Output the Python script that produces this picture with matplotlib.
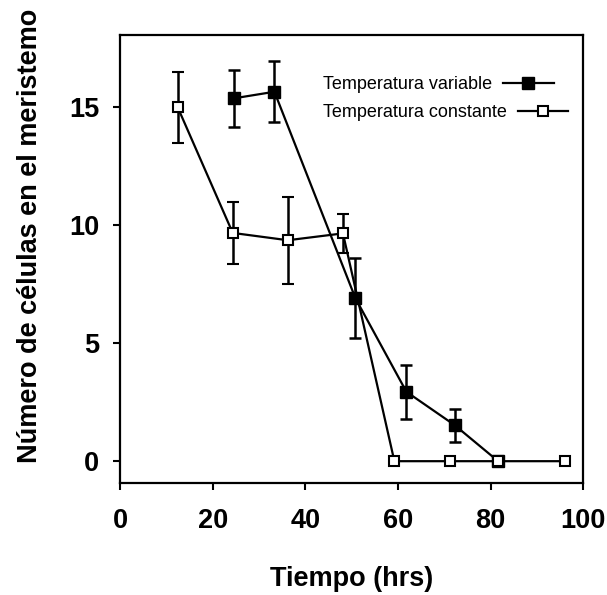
import matplotlib
matplotlib.use("Agg")
import matplotlib.pyplot as plt

plt.rcParams['font.family'] = ['Liberation Sans', 'DejaVu Sans']

# Temperatura variable (cuadros rellenos)
t_var = [24.5, 33.3, 50.8, 61.8, 72.2, 81.6]
n_var = [15.37, 15.65, 6.9, 2.94, 1.53, 0.0]
e_var = [1.2, 1.3, 1.7, 1.15, 0.7, 0.0]

# Temperatura constante (cuadros abiertos)
t_con = [12.4, 24.3, 36.2, 48.1, 59.2, 71.3, 81.6, 96.0]
n_con = [15.0, 9.67, 9.36, 9.65, 0.0, 0.0, 0.0, 0.0]
e_con = [1.5, 1.3, 1.85, 0.82, 0.0, 0.0, 0.0, 0.0]

xticks = [0, 20, 40, 60, 80, 100]
yticks = [0, 5, 10, 15]

fig = plt.figure(figsize=(6.07, 5.95), dpi=100)
ax = fig.add_axes([0.198, 0.188, 0.763, 0.753])

ax.errorbar(t_var, n_var, yerr=e_var, color='black', marker='s', markersize=8,
            markerfacecolor='black', linewidth=1.6, elinewidth=1.8, capsize=4,
            capthick=1.8, label='Temperatura variable', zorder=3)
ax.errorbar(t_con, n_con, yerr=e_con, color='black', marker='s', markersize=7.5,
            markerfacecolor='white', markeredgewidth=1.5, linewidth=1.6,
            elinewidth=1.8, capsize=4, capthick=1.8,
            label='Temperatura constante', zorder=4)

ax.set_xlim(0, 100)
ax.set_ylim(-0.93, 18.05)
ax.set_xticks(xticks)
ax.set_yticks(yticks)
ax.tick_params(direction='out', length=5, width=1.5, labelsize=19.5)
ax.tick_params(axis='x', pad=13)
ax.tick_params(axis='y', pad=10)
for lab in ax.get_xticklabels() + ax.get_yticklabels():
    lab.set_fontweight('bold')
for sp in ax.spines.values():
    sp.set_linewidth(1.6)

ax.set_xlabel('Tiempo (hrs)', fontsize=19.5, fontweight='bold', labelpad=23)
ax.set_ylabel('Número de células en el meristemo', fontsize=19.5,
              fontweight='bold', va='center')
ax.yaxis.set_label_coords(-0.195, 0.553)

# leyenda sin barras de error, texto a la izquierda
handles, labels = ax.get_legend_handles_labels()
handles = [h[0] for h in handles]
leg = ax.legend(handles, labels, loc='upper left', bbox_to_anchor=(0.403, 0.945),
                frameon=False, markerfirst=False, fontsize=13, handlelength=2.8,
                labelspacing=0.6, handletextpad=0.6)
for col in leg._legend_handle_box.get_children():
    col.align = 'left'

fig.savefig('out.png', dpi=100)
